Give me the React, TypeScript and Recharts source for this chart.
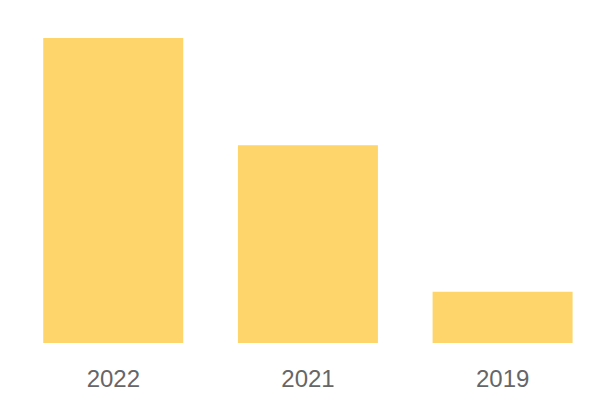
import { BarChart, Bar, XAxis, YAxis } from "recharts";

const years = ["2022", "2021", "2019"];
const values = [304, 197, 51];

const data = years.map((year, i) => ({ year, value: values[i] }));

export default function App() {
  return (
    <div style={{ position: "absolute", left: 0, top: 0 }}>
      <BarChart
        width={600}
        height={400}
        data={data}
        margin={{ top: 38, right: 0, bottom: 0, left: 16 }}
        barCategoryGap="14%"
      >
        <XAxis
          dataKey="year"
          height={57}
          axisLine={false}
          tickLine={false}
          tickSize={0}
          tickMargin={27}
          tick={{
            fontSize: 24,
            fill: "#666666",
            fontFamily: "'Liberation Sans', Arial, sans-serif",
          }}
        />
        <YAxis hide domain={[0, "dataMax"]} />
        <Bar dataKey="value" fill="#fed56b" isAnimationActive={false} />
      </BarChart>
    </div>
  );
}
